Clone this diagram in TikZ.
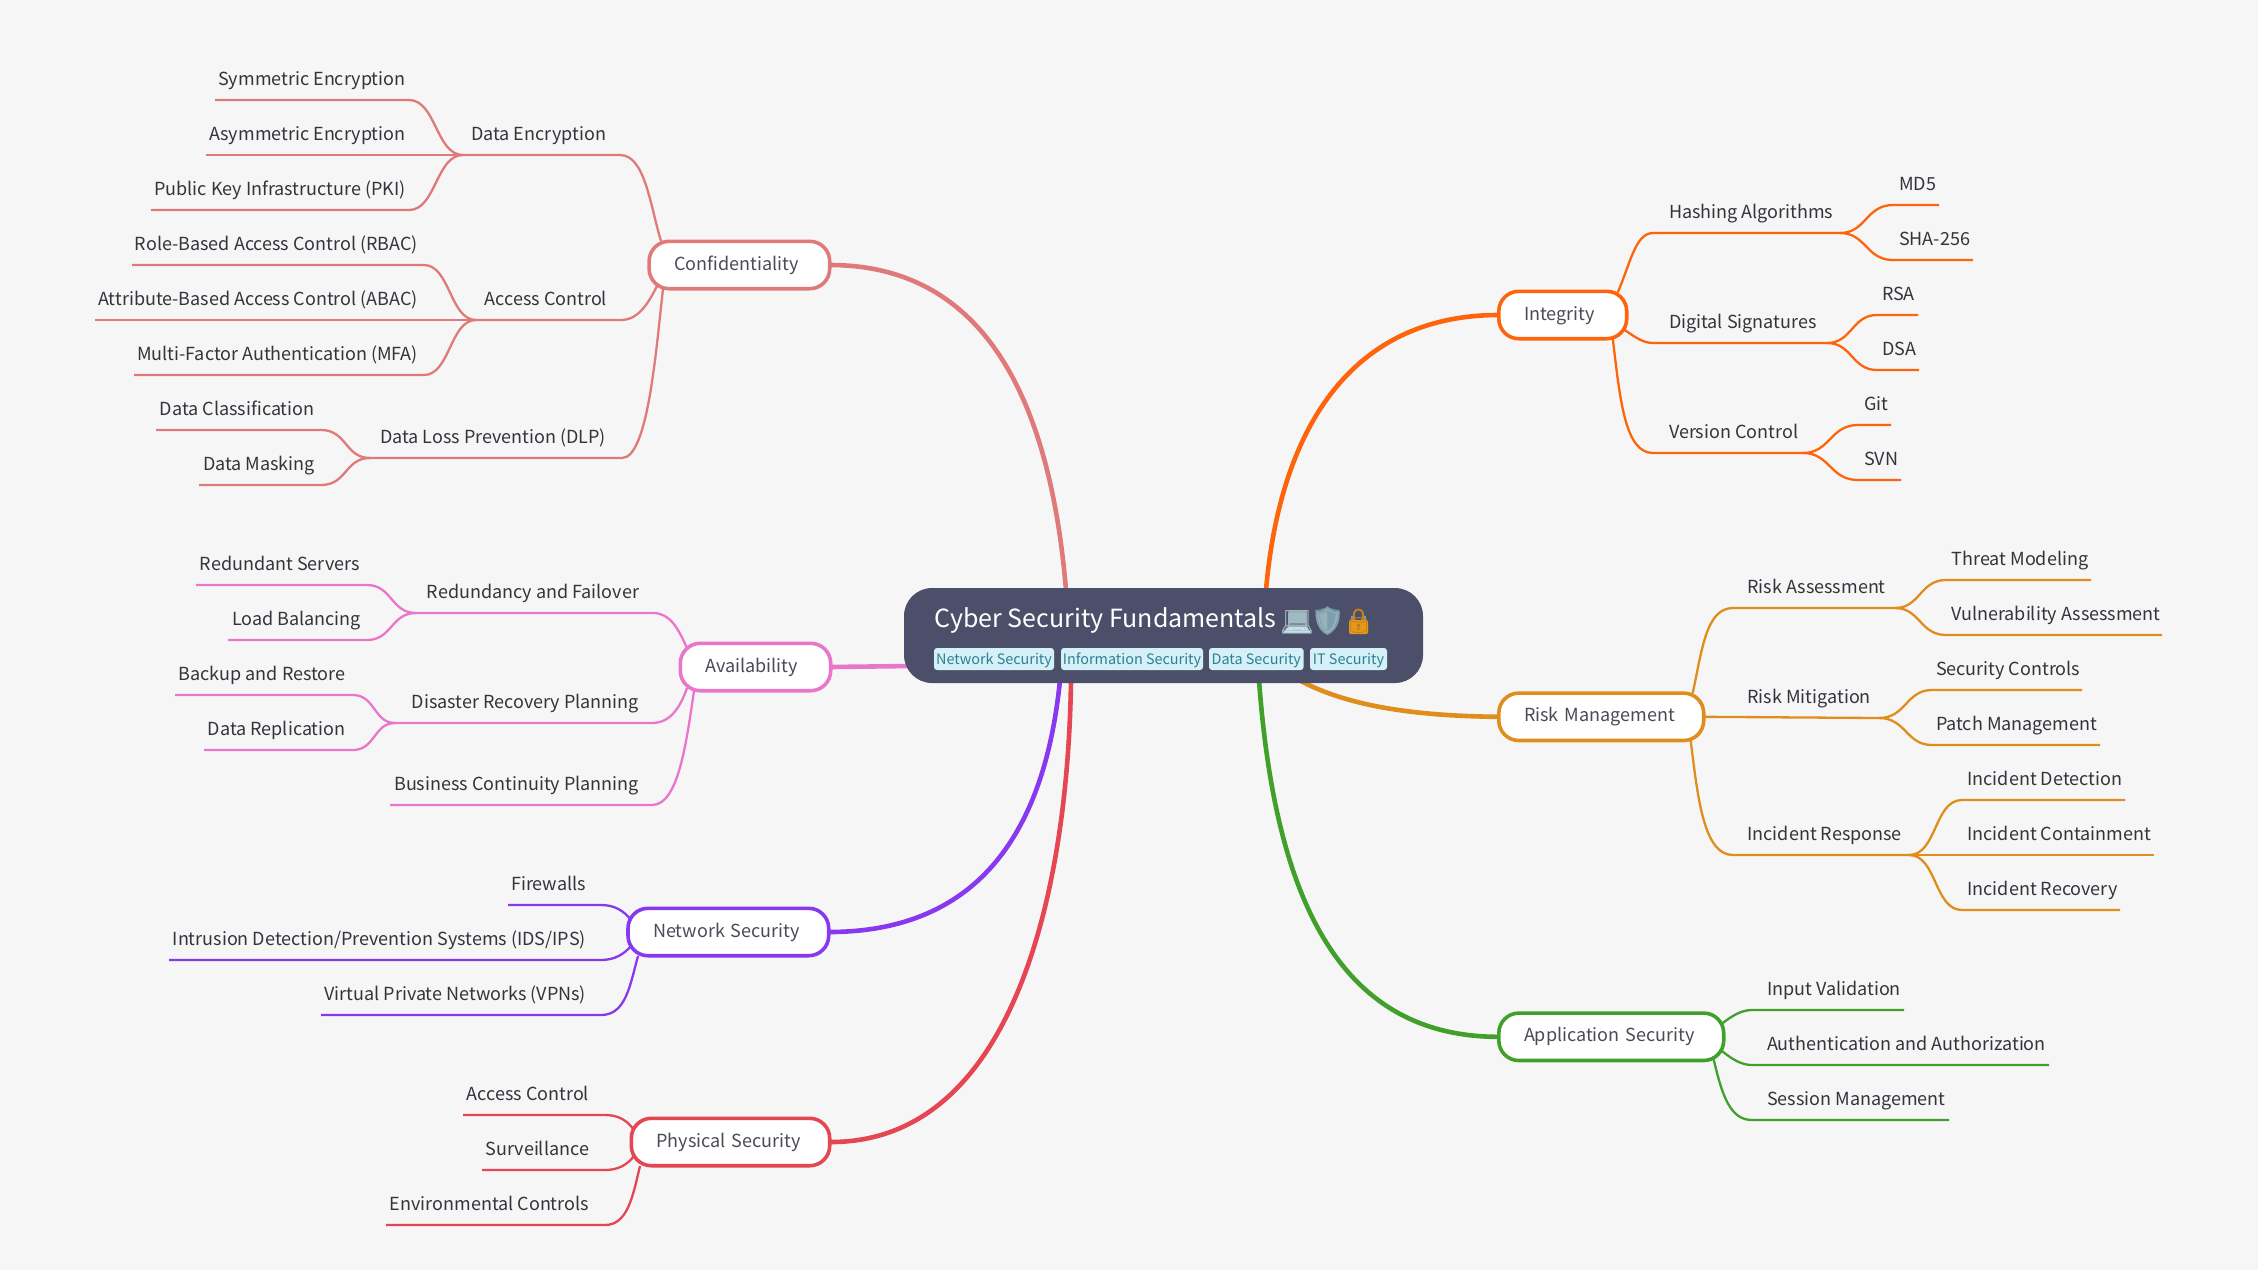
\documentclass[tikz,border=0pt]{standalone}
\usepackage{fontspec}
\setmainfont{Noto Sans CJK SC}
\newfontfamily\emojifont{Noto Emoji}
\definecolor{bgc}{HTML}{F6F6F6}
\definecolor{rootc}{HTML}{4C4F69}
\definecolor{inkc}{HTML}{33343C}
\definecolor{topicink}{HTML}{4A4B55}
\definecolor{cconf}{HTML}{E07A7A}
\definecolor{cavail}{HTML}{EA76CB}
\definecolor{cnet}{HTML}{8839EF}
\definecolor{cphys}{HTML}{E64553}
\definecolor{cint}{HTML}{FE640B}
\definecolor{crisk}{HTML}{DF8E1D}
\definecolor{capp}{HTML}{40A02B}
\definecolor{tagf}{HTML}{D5F0F7}
\definecolor{tagt}{HTML}{2F7F96}
\tikzset{
  lbl/.style={inner sep=0pt,outer sep=0pt,font=\fontsize{18pt}{22pt}\selectfont,text=inkc},
  trunk/.style={line width=4.6pt},
  twig/.style={line width=2.3pt},
  topic/.style={draw=#1,fill=white,line width=3.6pt,rounded corners=20pt,inner xsep=0pt,inner ysep=0pt,outer sep=0pt,
     minimum height=47.4pt,text height=14pt,text depth=4pt,align=left,text=topicink,font=\fontsize{18pt}{22pt}\selectfont},
  tag/.style={fill=tagf,rounded corners=3pt,inner sep=0pt,minimum height=22pt,text height=15pt,text depth=4pt,text=tagt,font=\fontsize{14.4pt}{18pt}\selectfont},
  emo/.style={inner sep=0pt,outer sep=0pt,anchor=center,font=\emojifont},
}
% name, text right edge, line y, line left end, text
\newcommand\LL[5]{\node[lbl,anchor=base east] (#1) at (#2+1,#3-15) {#5};\coordinate (#1-s) at (#4,#3);}
% name, text left edge, line y, line right end, text
\newcommand\RL[5]{\node[lbl,anchor=base west] (#1) at (#2,#3-15) {#5};\coordinate (#1-s) at (#4,#3);}
% name, left, right, cy, colour, text
\newcommand\TP[6]{\pgfmathsetmacro\tw{#3-#2-1.6}\pgfmathsetmacro\cx{(#2+#3)/2}\node[topic=#5,text width=\tw pt] (#1) at (\cx,#4) {\hspace*{25.2pt}#6};}
\begin{document}
\begin{tikzpicture}[x=1pt,y=-1pt]
\useasboundingbox (0,0) rectangle (2258,1270);
\fill[bgc] (0,0) rectangle (2258,1270);
%% labels
\LL{a1}{404.5}{100}{215}{Symmetric Encryption}
\LL{a2}{404.5}{155}{206}{Asymmetric Encryption}
\LL{a3}{404.5}{210}{151}{Public Key Infrastructure (PKI)}
\LL{a4}{417}{265}{132}{Role-Based Access Control (RBAC)}
\LL{a5}{417}{320}{95}{Attribute-Based Access Control (ABAC)}
\LL{a6}{417}{375}{134}{Multi-Factor Authentication (MFA)}
\LL{a7}{313.5}{430}{156}{Data Classification}
\LL{a8}{314}{485}{199}{Data Masking}
\LL{b1}{605}{155}{463}{Data Encryption}
\LL{b2}{606}{320}{476}{Access Control}
\LL{b3}{605}{458}{370}{Data Loss Prevention (DLP)}
\LL{c1}{359}{585}{196}{Redundant Servers}
\LL{c2}{360}{640}{228}{Load Balancing}
\LL{c3}{344.5}{695}{175}{Backup and Restore}
\LL{c4}{344.5}{750}{204}{Data Replication}
\LL{d1}{638}{613}{416}{Redundancy and Failover}
\LL{d2}{638}{723}{395}{Disaster Recovery Planning}
\LL{d3}{638}{805}{390}{Business Continuity Planning}
\LL{e1}{585}{905}{508}{Firewalls}
\LL{e2}{585}{960}{169}{Intrusion Detection/Prevention Systems (IDS/IPS)}
\LL{e3}{585}{1015}{321}{Virtual Private Networks (VPNs)}
\LL{f1}{588}{1115}{463}{Access Control}
\LL{f2}{588}{1170}{482}{Surveillance}
\LL{f3}{588}{1225}{386}{Environmental Controls}
\RL{g1}{1669}{233}{1840}{Hashing Algorithms}
\RL{g2}{1669}{343}{1827}{Digital Signatures}
\RL{g3}{1669}{453}{1803}{Version Control}
\RL{h1}{1899}{205}{1939}{MD5}
\RL{h2}{1899}{260}{1973}{SHA-256}
\RL{h3}{1882}{315}{1918}{RSA}
\RL{h4}{1882}{370}{1919}{DSA}
\RL{h5}{1864}{425}{1891}{Git}
\RL{h6}{1864}{480}{1901}{SVN}
\RL{i1}{1747.5}{608}{1895}{Risk Assessment}
\RL{i2}{1747.5}{718}{1879}{Risk Mitigation}
\RL{i3}{1747.5}{855}{1909}{Incident Response}
\RL{j1}{1951.5}{580}{2091}{Threat Modeling}
\RL{j2}{1951.5}{635}{2162}{Vulnerability Assessment}
\RL{j3}{1936}{690}{2082}{Security Controls}
\RL{j4}{1936}{745}{2100}{Patch Management}
\RL{j5}{1967.5}{800}{2125}{Incident Detection}
\RL{j6}{1967.5}{855}{2153.5}{Incident Containment}
\RL{j7}{1967.5}{910}{2120}{Incident Recovery}
\RL{k1}{1767}{1010}{1904}{Input Validation}
\RL{k2}{1767}{1065}{2049}{Authentication and Authorization}
\RL{k3}{1767}{1120}{1949}{Session Management}
%% topics
\TP{conf}{648.3}{830.5}{265}{cconf}{Confidentiality}
\TP{avail}{679.5}{831.5}{667}{cavail}{Availability}
\TP{net}{627.2}{829.5}{932}{cnet}{Network Security}
\TP{phys}{630.5}{830.5}{1142}{cphys}{Physical Security}
\TP{integ}{1498}{1627.5}{315}{cint}{Integrity}
\TP{risk}{1498}{1704.5}{716.8}{crisk}{Risk Management}
\TP{appl}{1498}{1724.5}{1036.8}{capp}{Application Security}
%% twigs
\begin{scope}[twig,cconf]
\draw (a1-s) -- (409,100) .. controls (436,100) and (436,155) .. (b1-s);
\draw (a2-s) -- (b1-s);
\draw (a3-s) -- (409,210) .. controls (436,210) and (436,155) .. (b1-s);
\draw (a4-s) -- (424,265) .. controls (450,265) and (450,320) .. (b2-s);
\draw (a5-s) -- (b2-s);
\draw (a6-s) -- (424,375) .. controls (450,375) and (450,320) .. (b2-s);
\draw (a7-s) -- (321,430) .. controls (347,430) and (345,458) .. (b3-s);
\draw (a8-s) -- (321,485) .. controls (347,485) and (345,458) .. (b3-s);
\draw (b1-s) -- (620,155) .. controls (645,155) and (650,205) .. (661,241);
\draw (b2-s) -- (621,320) .. controls (638,320) and (648,304) .. (657,286);
\draw (b3-s) -- (622,458) .. controls (648,458) and (656,350) .. (663,289);
\end{scope}
\begin{scope}[twig,cavail]
\draw (c1-s) -- (367,585) .. controls (392,585) and (391,613) .. (d1-s);
\draw (c2-s) -- (367,640) .. controls (392,640) and (391,613) .. (d1-s);
\draw (c3-s) -- (353,695) .. controls (375,695) and (374,723) .. (d2-s);
\draw (c4-s) -- (353,750) .. controls (375,750) and (374,723) .. (d2-s);
\draw (d1-s) -- (653,613) .. controls (670,613) and (678,628) .. (687,648);
\draw (d2-s) -- (652,723) .. controls (670,723) and (680,708) .. (687,688);
\draw (d3-s) -- (652,805) .. controls (678,805) and (686,745) .. (694,691);
\end{scope}
\begin{scope}[twig,cnet]
\draw (e1-s) -- (601,905) .. controls (615,905) and (624,911) .. (631,920);
\draw (e2-s) -- (601,960) .. controls (615,960) and (624,954) .. (631,946);
\draw (e3-s) -- (601,1015) .. controls (626,1015) and (630,985) .. (638,956);
\end{scope}
\begin{scope}[twig,cphys]
\draw (f1-s) -- (605,1115) .. controls (618,1115) and (627,1120) .. (634,1130);
\draw (f2-s) -- (605,1170) .. controls (618,1170) and (627,1165) .. (634,1156);
\draw (f3-s) -- (605,1225) .. controls (628,1225) and (633,1195) .. (640,1166);
\end{scope}
\begin{scope}[twig,cint]
\draw (integ.north east) ++(-9,1) .. controls (1630,265) and (1635,233) .. (1653,233) -- (g1-s);
\draw (integ.east) ++(-2,15) .. controls (1635,337) and (1643,343) .. (1653,343) -- (g2-s);
\draw (integ.south east) ++(-14,-1) .. controls (1620,400) and (1625,453) .. (1653,453) -- (g3-s);
\draw (g1-s) .. controls (1866,233) and (1866,205) .. (1893,205) -- (h1-s);
\draw (g1-s) .. controls (1866,233) and (1866,260) .. (1893,260) -- (h2-s);
\draw (g2-s) .. controls (1852,343) and (1852,315) .. (1877,315) -- (h3-s);
\draw (g2-s) .. controls (1852,343) and (1852,370) .. (1877,370) -- (h4-s);
\draw (g3-s) .. controls (1830,453) and (1830,425) .. (1858,425) -- (h5-s);
\draw (g3-s) .. controls (1830,453) and (1830,480) .. (1858,480) -- (h6-s);
\end{scope}
\begin{scope}[twig,crisk]
\draw (risk.north east) ++(-11,0) .. controls (1702,650) and (1706,608) .. (1733,608) -- (i1-s);
\draw (risk.east) -- (i2-s);
\draw (risk.south east) ++(-13,0) .. controls (1698,800) and (1704,855) .. (1733,855) -- (i3-s);
\draw (i1-s) .. controls (1920,608) and (1920,580) .. (1946,580) -- (j1-s);
\draw (i1-s) .. controls (1920,608) and (1920,635) .. (1946,635) -- (j2-s);
\draw (i2-s) .. controls (1906,718) and (1906,690) .. (1932,690) -- (j3-s);
\draw (i2-s) .. controls (1906,718) and (1906,745) .. (1932,745) -- (j4-s);
\draw (i3-s) .. controls (1937,855) and (1934,800) .. (1962,800) -- (j5-s);
\draw (i3-s) -- (j6-s);
\draw (i3-s) .. controls (1937,855) and (1934,910) .. (1962,910) -- (j7-s);
\end{scope}
\begin{scope}[twig,capp]
\draw (appl.east) ++(-2,-13) .. controls (1733,1015) and (1742,1010) .. (1752,1010) -- (k1-s);
\draw (appl.east) ++(-2,14) .. controls (1733,1060) and (1742,1065) .. (1752,1065) -- (k2-s);
\draw (appl.south east) ++(-10,-1) .. controls (1722,1095) and (1730,1120) .. (1752,1120) -- (k3-s);
\end{scope}
%% trunks
\coordinate (r1) at (1066,590);
\coordinate (r2) at (1266,590);
\coordinate (r3) at (1299,680);
\coordinate (r4) at (1259,680);
\coordinate (r5) at (1060,680);
\coordinate (r6) at (1071,680);
\coordinate (r7) at (910,666);
\draw[trunk,cconf] (conf.east) .. controls (985,265) and (1050,400) .. (r1);
\draw[trunk,cint] (integ.west) .. controls (1350,315) and (1280,430) .. (r2);
\draw[trunk,crisk] (risk.west) .. controls (1410,716) and (1345,705) .. (r3);
\draw[trunk,capp] (appl.west) .. controls (1340,1037) and (1275,900) .. (r4);
\draw[trunk,cavail] (avail.east) -- (r7);
\draw[trunk,cnet] (net.east) .. controls (980,932) and (1045,830) .. (r5);
\draw[trunk,cphys] (phys.east) .. controls (1010,1143) and (1068,900) .. (r6);
%% root
\node[fill=rootc,rounded corners=28pt,minimum width=519pt,minimum height=95pt,inner sep=0pt,outer sep=0pt] (root) at (1163.5,635.5) {};
\node[inner sep=0pt,anchor=base west,text=white,font=\fontsize{25pt}{30pt}\selectfont] (title) at (934.5,627) {Cyber Security Fundamentals};
%% emoji colour under the glyphs
\fill[rounded corners=1pt,fill=white!70!cyan!30!gray] (1288,611) rectangle (1307,628);
\fill[fill=black!55!cyan!35!gray] (1290,613) rectangle (1305,626);
\fill[fill=white!85!cyan] (1288,627) -- (1307,627) -- (1311,633) -- (1283,633) -- cycle;
\fill[fill=white!55!cyan!40!gray,draw=cyan!30!gray,line width=1.5pt] (1327.5,608) .. controls (1333,612) and (1337,612) .. (1339,612) .. controls (1339.5,623) and (1335,630) .. (1327.5,634) .. controls (1320,630) and (1316,623) .. (1316.5,612) .. controls (1318,612) and (1322,612) .. (1327.5,608) -- cycle;
\draw[line width=2.6pt,color=cyan!30!gray] (1352.5,621) -- (1352.5,616) arc[start angle=180,end angle=0,radius=6] -- (1364.5,621);
\fill[rounded corners=2pt,fill=crisk!90!yellow] (1349,620) rectangle (1368,634);
\fill[fill=black!75] (1358.5,625.5) circle[radius=1.7];
\fill[fill=black!75] (1357.7,626) rectangle (1359.3,630);
\node[emo,font=\fontsize{27pt}{30pt}\emojifont,text=white!60!cyan!50!gray] (laptop) at (1297,622) {💻};
\node[emo,font=\fontsize{28pt}{30pt}\emojifont,text=cyan!30!gray] (shield) at (1327.5,621) {🛡};
\node[emo,font=\fontsize{24pt}{30pt}\emojifont,text=crisk!90!black] (lock) at (1358.5,621) {🔒};
\node[tag,minimum width=120pt] (t1) at (994,659) {Network Security};
\node[tag,minimum width=142pt] (t2) at (1132,659) {Information Security};
\node[tag,minimum width=94.6pt] (t3) at (1256.3,659) {Data Security};
\node[tag,minimum width=77pt] (t4) at (1348.5,659) {IT Security};
\end{tikzpicture}
\end{document}
